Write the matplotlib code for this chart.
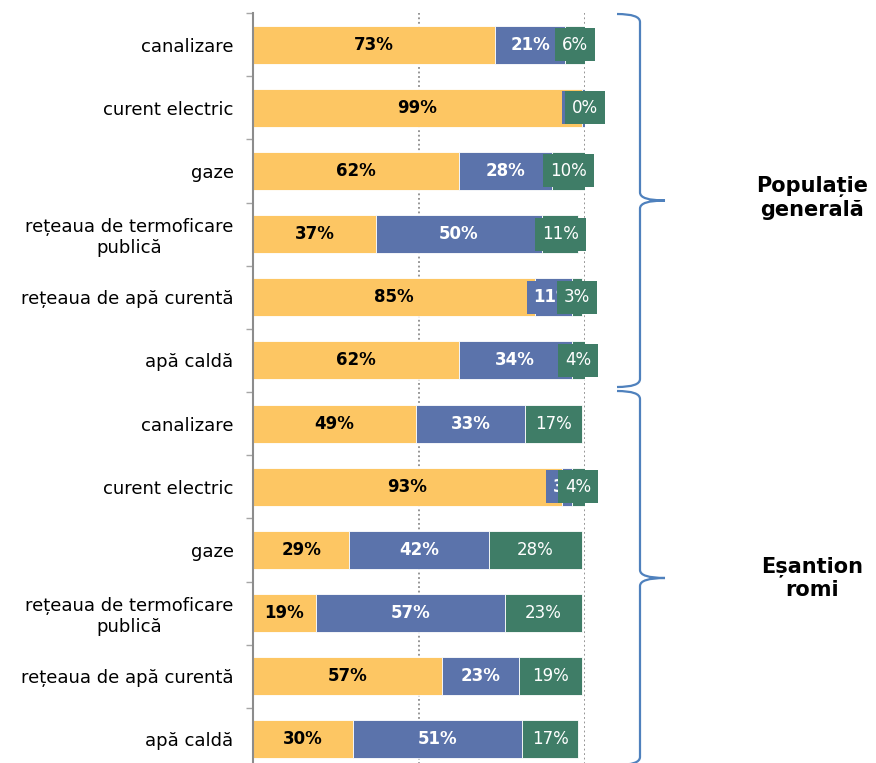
import matplotlib
matplotlib.use("Agg")
import matplotlib.pyplot as plt
from matplotlib.patches import PathPatch
from matplotlib.path import Path
import numpy as np

plt.rcParams['font.family'] = ['DejaVu Sans']

categories = [
    "canalizare", "curent electric", "gaze", "rețeaua de termoficare\npublică",
    "rețeaua de apă curentă", "apă caldă",
    "canalizare", "curent electric", "gaze", "rețeaua de termoficare\npublică",
    "rețeaua de apă curentă", "apă caldă",
]
series_yes = [73, 99, 62, 37, 85, 62, 49, 93, 29, 19, 57, 30]
series_mid = [21, 1, 28, 50, 11, 34, 33, 3, 42, 57, 23, 51]
series_no = [6, 0, 10, 11, 3, 4, 17, 4, 28, 23, 19, 17]
group_labels = ["Populație\ngenerală", "Eșantion\nromi"]

c_yellow = "#FDC663"
c_blue = "#5B73AB"
c_green = "#3F7D67"

W, H = 876, 763
fig = plt.figure(figsize=(W / 100, H / 100), dpi=100)

ax_left, ax_right = 253, 585
ax_top, ax_bot = 13, 771
ax = fig.add_axes([ax_left / W, (H - ax_bot) / H, (ax_right - ax_left) / W, (ax_bot - ax_top) / H])

n = len(categories)
y = np.arange(n)
yes = np.array(series_yes, float)
mid = np.array(series_mid, float)
no = np.array(series_no, float)

bh = 0.6
ax.barh(y, yes, height=bh, color=c_yellow, edgecolor="white", linewidth=0.6, zorder=2)
ax.barh(y, mid, left=yes, height=bh, color=c_blue, edgecolor="white", linewidth=0.6, zorder=2)
ax.barh(y, no, left=yes + mid, height=bh, color=c_green, edgecolor="white", linewidth=0.6, zorder=2)

ax.set_xlim(0, 100)
ax.set_ylim(n - 0.5, -0.5)

for xv in (50, 100):
    ax.axvline(xv, color="#8C8C8C", linestyle=(0, (1, 1.5)), linewidth=1.3, zorder=1)

for sp in ("top", "right", "bottom"):
    ax.spines[sp].set_visible(False)
ax.spines["left"].set_color("#8C8C8C")
ax.spines["left"].set_linewidth(1.5)
ax.spines["left"].set_zorder(5)
ax.set_xticks([])
ax.set_yticks(y)
ax.set_yticklabels(categories, fontsize=13, multialignment="center")
ax.tick_params(axis="y", which="major", length=0, pad=14)
ax.set_yticks(np.arange(n + 1) - 0.5, minor=True)
ax.tick_params(axis="y", which="minor", length=5, width=1.0, color="#A6A6A6")


def label_box(x0, y0, width, height, mutation_size):
    padx = 0.42 * mutation_size
    half_h = 16.5 * fig.dpi / 100
    cy = y0 + height / 2
    xa, xb = x0 - padx, x0 + width + padx
    ya, yb = cy - half_h, cy + half_h
    return Path([(xa, ya), (xb, ya), (xb, yb), (xa, yb), (xa, ya)],
                [Path.MOVETO, Path.LINETO, Path.LINETO, Path.LINETO, Path.CLOSEPOLY])


def label(xc, yc, val, col, tcol, weight, z):
    ax.text(xc, yc, f"{int(val)}%", ha="center", va="center", fontsize=12,
            color=tcol, fontweight=weight, zorder=z, clip_on=False,
            bbox=dict(boxstyle=label_box, fc=col, ec="none"))


for i in range(n):
    label(yes[i] / 2, y[i], yes[i], c_yellow, "black", "bold", 6)
    label(yes[i] + mid[i] / 2, y[i], mid[i], c_blue, "white", "bold", 7)
    label(yes[i] + mid[i] + no[i] / 2, y[i], no[i], c_green, "white", "normal", 8)

# braces and group labels on an overlay in pixel coordinates
ov = fig.add_axes([0, 0, 1, 1], facecolor="none")
ov.set_xlim(0, W)
ov.set_ylim(H, 0)
ov.axis("off")


def brace(y0, y1, xe=617, xs=640, xt=665):
    ym = (y0 + y1) / 2
    r = 8
    verts = [
        (xe, y0), (xs, y0), (xs, y0 + r),
        (xs, ym - r),
        (xs, ym), (xt, ym),
        (xs, ym), (xs, ym + r),
        (xs, y1 - r),
        (xs, y1), (xe, y1),
    ]
    codes = [Path.MOVETO, Path.CURVE3, Path.CURVE3,
             Path.LINETO,
             Path.CURVE3, Path.CURVE3,
             Path.CURVE3, Path.CURVE3,
             Path.LINETO,
             Path.CURVE3, Path.CURVE3]
    ov.add_patch(PathPatch(Path(verts, codes), fc="none", ec="#4F81BD", lw=1.6))


brace(14, 387)
brace(391, 765)

ov.text(812, 198, group_labels[0], ha="center", va="center", fontsize=15,
        fontweight="bold", linespacing=1.2)
ov.text(812, 578, group_labels[1], ha="center", va="center", fontsize=15,
        fontweight="bold", linespacing=1.2)

fig.savefig("out.png", dpi=100)
